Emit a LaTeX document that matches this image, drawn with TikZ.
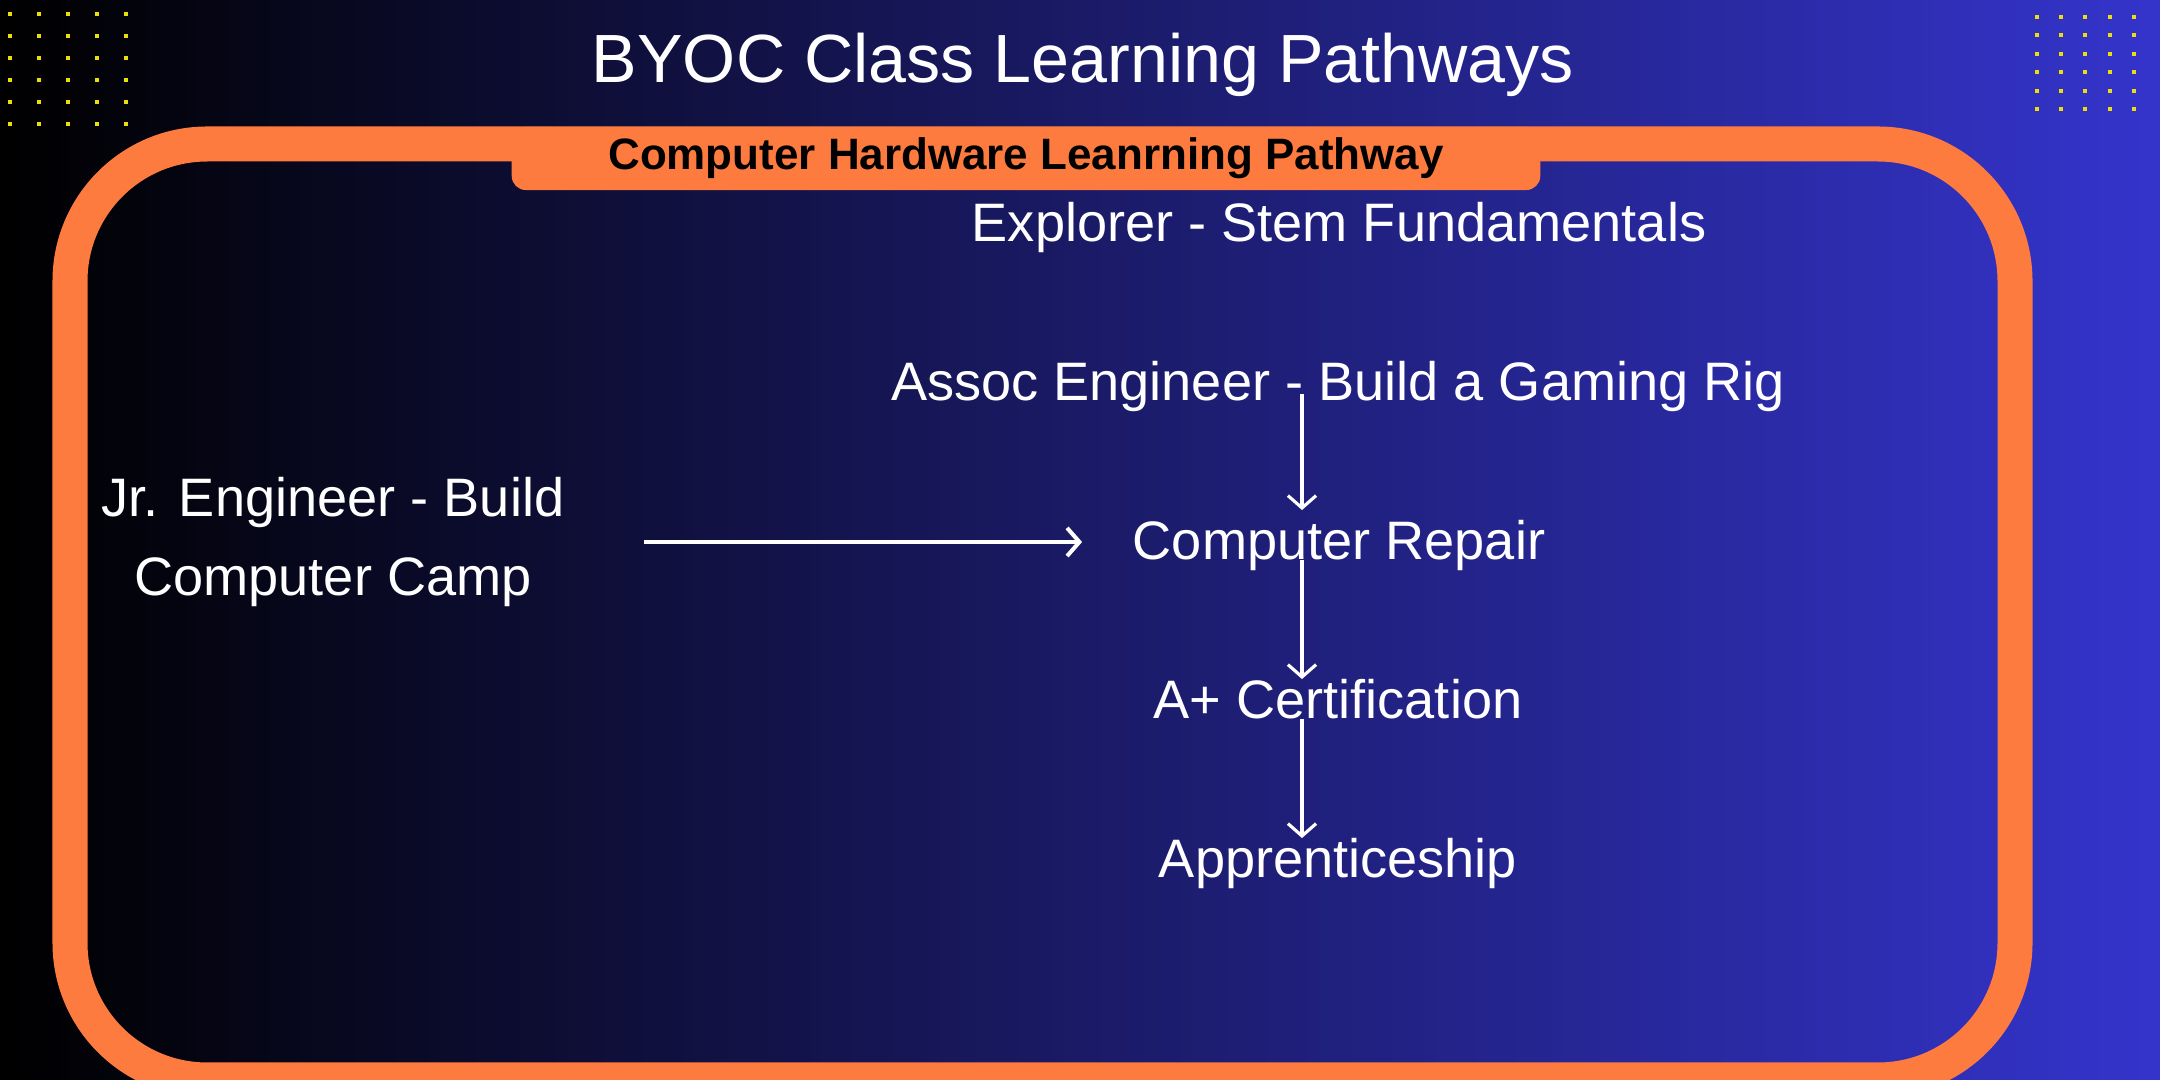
\documentclass[tikz,border=0pt]{standalone}
\usepackage{fontspec}
\setmainfont{Liberation Sans}
\usetikzlibrary{arrows.meta}
\definecolor{frameorange}{RGB}{253,123,62}
\definecolor{bgblue}{RGB}{52,52,204}
\definecolor{dotyellow}{RGB}{235,222,10}
\begin{document}
\begin{tikzpicture}[x=0.01cm,y=-0.01cm,
  stage/.style={text=white,inner sep=0pt,anchor=base,font=\fontsize{15.4pt}{22.5pt}\selectfont},
  flow/.style={draw=white,line width=0.9pt,-{Straight Barb[length=3.5pt,width=8pt]}},
  dotsq/.style={fill=dotyellow}]
\useasboundingbox (0,0) rectangle (2160,1080);
\clip (0,0) rectangle (2160,1080);
\shade[left color=black,right color=bgblue] (0,0) rectangle (2160,1080);
\foreach \i in {0,...,4}
  \foreach \j in {0,...,5} {
    \fill[dotsq] ({10+29*\i},{14+22*\j}) +(-2.4,-2.4) rectangle +(2.4,2.4);
    \fill[dotsq] ({2037+24.2*\i},{17+18.4*\j}) +(-2,-2) rectangle +(2,2);
  }
\draw[frameorange,line width=0.35cm,rounded corners=1.37cm] (70,144) rectangle (2015,1080);
\node[fill=frameorange,rounded corners=0.14cm,minimum width=10.28cm,minimum height=0.63cm,inner sep=0pt,font=\bfseries\fontsize{12.5pt}{15pt}\selectfont] (tab) at (1026,158.5) {Computer Hardware Leanrning Pathway};
\node[stage,font=\fontsize{19.4pt}{23pt}\selectfont] (title) at (1083,83) {BYOC Class Learning Pathways};
\node[stage] (explorer) at (1339,242) {Explorer - Stem Fundamentals};
\node[stage] (assoc) at (1338,401) {Assoc Engineer - Build a Gaming Rig};
\node[stage] (repair) at (1339,560) {Computer Repair};
\node[stage] (cert) at (1338,719) {A+ Certification};
\node[stage] (appr) at (1338,878) {Apprenticeship};
\node[stage,anchor=center,align=center] (jr) at (333,542) {Jr. Engineer - Build\\Computer Camp};
\coordinate (spine) at (1302,0);
\draw[flow,shorten <=-0.07cm,shorten >=0.1cm] (assoc.base -| spine) -- (repair.north -| spine);
\draw[flow] (repair.base -| spine) -- (cert.north -| spine);
\draw[flow] (cert.base -| spine) -- (appr.north -| spine);
\draw[flow,line width=1.15pt,shorten <=0.79cm,shorten >=0.5cm] (jr.east) -- (jr.east -| repair.west);
\end{tikzpicture}
\end{document}
